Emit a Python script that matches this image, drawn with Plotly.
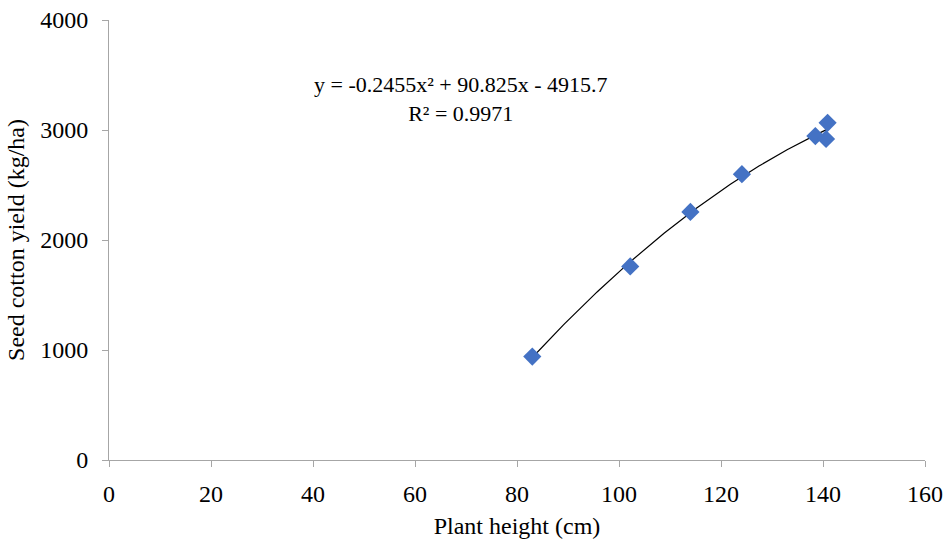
import numpy as np
import plotly.graph_objects as go

# Data
plant_height = [83.0, 102.2, 114.0, 124.1, 138.5, 140.6, 140.9]
seed_yield = [940, 1760, 2255, 2598, 2945, 2918, 3065]
trend_coef = [-0.2455, 90.825, -4915.7]
r_squared = 0.9971
x_ticks = [0, 20, 40, 60, 80, 100, 120, 140, 160]
y_ticks = [0, 1000, 2000, 3000, 4000]

font = "Liberation Serif, Times New Roman, serif"

tx = np.linspace(min(plant_height), max(plant_height), 200)
ty = np.polyval(trend_coef, tx)

fig = go.Figure()
fig.add_trace(go.Scatter(x=tx, y=ty, mode="lines",
                         line=dict(color="black", width=1.2),
                         hoverinfo="skip", showlegend=False))
fig.add_trace(go.Scatter(x=plant_height, y=seed_yield, mode="markers",
                         marker=dict(symbol="diamond", size=14, color="#4472C4",
                                     line=dict(width=0)),
                         showlegend=False))

eq = (f"y = {trend_coef[0]}x\u00b2 + {trend_coef[1]}x - {abs(trend_coef[2])}"
      f"<br>R\u00b2 = {r_squared}")
fig.add_annotation(x=0.431, y=0.886, xref="paper", yref="paper", text=eq,
                   showarrow=False, align="center", xanchor="center", yanchor="top",
                   font=dict(family=font, size=22, color="black"))

axis_common = dict(showline=True, linecolor="#A6A6A6", linewidth=1,
                   ticks="outside", ticklen=6, tickcolor="#A6A6A6",
                   showgrid=False, zeroline=False, automargin=False,
                   tickfont=dict(family=font, size=24, color="black"))

fig.update_xaxes(range=[0, 160], tickvals=x_ticks, ticklabelstandoff=6,
                 title=dict(text="Plant height (cm)", font=dict(family=font, size=24, color="black"),
                            standoff=11),
                 **axis_common)
fig.update_yaxes(range=[0, 4000], tickvals=y_ticks, ticklabelstandoff=9,
                 title=dict(text="Seed cotton yield (kg/ha)", font=dict(family=font, size=24, color="black"),
                            standoff=8),
                 **axis_common)

fig.update_layout(width=950, height=546, plot_bgcolor="white", paper_bgcolor="white",
                  margin=dict(l=109, r=25, t=20, b=86))

fig.write_html("out.html", config={"displayModeBar": False},
               post_script="document.body.style.margin='0';document.body.style.overflow='hidden';")
